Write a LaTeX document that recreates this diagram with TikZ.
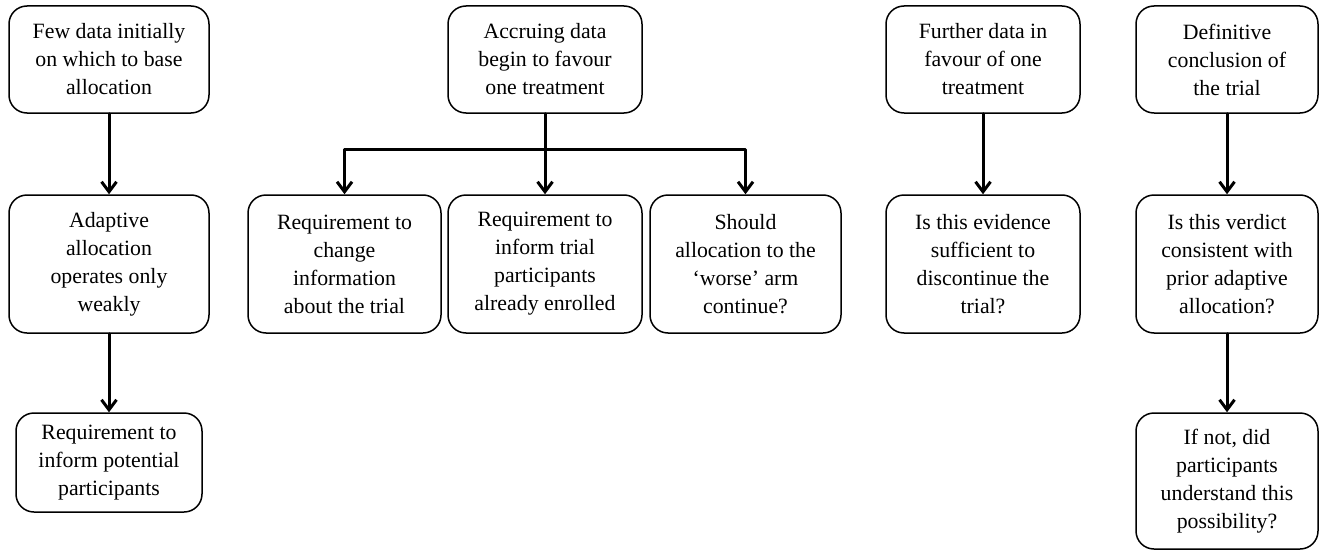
\documentclass[tikz,border=0pt]{standalone}
\usepackage{fontspec}
\setmainfont{Liberation Serif}
\usetikzlibrary{arrows.meta}
\begin{document}
\begin{tikzpicture}[x=1pt, y=-1pt, line cap=round, line join=round,
	font=\fontsize{21.8}{28}\selectfont,
	box/.style={draw, line width=1.5pt, rounded corners=18pt, align=center, inner sep=0pt},
	arr/.style={line width=3pt, -{Straight Barb[length=10pt,width=15pt,line width=3pt]}}]
			\useasboundingbox (0,0) rectangle (1319,551);
			% first column
			\node[box, minimum width=200pt, minimum height=107pt] (few) at (109,59.5) {Few data initially\\on which to base\\allocation};
			\node[box, minimum width=200pt, minimum height=138pt] (adapt) at (109,264) {Adaptive\\allocation\\operates only\\weakly};
			\node[box, minimum width=186pt, minimum height=99pt] (infpot) at (109,462.5) {Requirement to\\inform potential\\participants};
			% second group
			\node[box, minimum width=194pt, minimum height=107pt] (accr) at (545,59.5) {Accruing data\\begin to favour\\one treatment};
			\node[box, minimum width=193pt, minimum height=138pt] (change) at (344.5,264) {Requirement to\\change\\information\\about the trial};
			\node[box, minimum width=194pt, minimum height=138pt] (infenr) at (545,264) {Requirement to\\inform trial\\participants\\already enrolled};
			\node[box, minimum width=191pt, minimum height=138pt] (worse) at (745.5,264) {Should\\allocation to the\\`worse' arm\\continue?};
			% third column
			\node[box, minimum width=194pt, minimum height=107pt] (further) at (983,59.5) {Further data in\\favour of one\\treatment};
			\node[box, minimum width=194pt, minimum height=138pt] (suff) at (983,264) {Is this evidence\\sufficient to\\discontinue the\\trial?};
			% last column
			\node[box, minimum width=182pt, minimum height=107pt] (defin) at (1227,59.5) {Definitive\\conclusion of\\the trial};
			\node[box, minimum width=182pt, minimum height=138pt] (verdict) at (1227,264) {Is this verdict\\consistent with\\prior adaptive\\allocation?};
			\node[box, minimum width=182pt, minimum height=136pt] (ifnot) at (1227,481) {If not, did\\participants\\understand this\\possibility?};
			\coordinate (split) at (545,149);
			\draw[arr] (few) -- (adapt);
			\draw[arr] (adapt) -- (infpot);
			\draw[arr] (accr) -- (infenr);
			\draw[arr] (split) -| (change);
			\draw[arr] (split) -| (worse);
			\draw[arr] (further) -- (suff);
			\draw[arr] (defin) -- (verdict);
			\draw[arr] (verdict) -- (ifnot);
		\end{tikzpicture}
\end{document}
